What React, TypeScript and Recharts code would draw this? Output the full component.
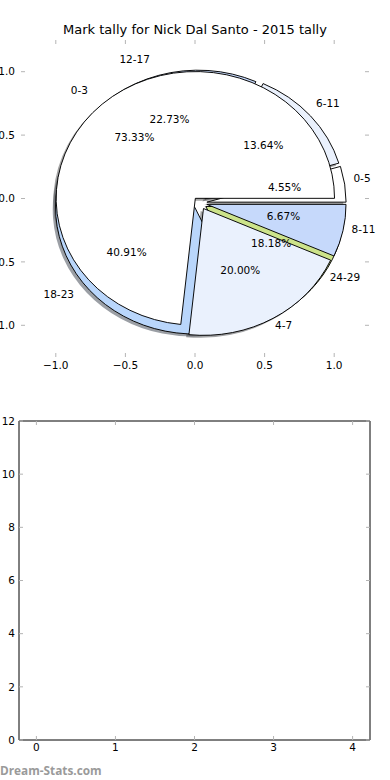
import React from "react"
import { PieChart, Pie, Cell, ScatterChart, Scatter, XAxis, YAxis } from "recharts"

// outer ring: marks per 6-year age band
const sixYearBins = ["0-5", "6-11", "12-17", "18-23", "24-29"]
const sixYearMarks = [1, 3, 5, 9, 4]
const sixYearColors = ["#ffffff", "#eaf1fd", "#c6d9fb", "#b9d6fb", "#cce38a"]

// second pie: marks per 4-year age band
const fourYearBins = ["0-3", "4-7", "8-11"]
const fourYearMarks = [11, 3, 1]
const fourYearColors = ["#ffffff", "#eaf1fd", "#c6d9fb"]

const pieTicks = [-1, -0.5, 0, 0.5, 1]
const emptyXTicks = [0, 1, 2, 3, 4]
const emptyYTicks = [0, 2, 4, 6, 8, 10, 12]

const FONT = "DejaVu Sans, sans-serif"
const TICK_GREY = "#b4b4b4"

// top axes geometry (pie is drawn in data units, x and y are scaled differently)
const CX = 195
const CY = 198.5
const RX = 139.2
const RY = 126.8
const EXPLODE = 0.05

const sixYearData = sixYearBins.map((name, i) => ({ name, value: sixYearMarks[i] }))
const fourYearData = fourYearBins.map((name, i) => ({ name, value: fourYearMarks[i] }))

function midAngles(values: number[]) {
  const total = values.reduce((a, b) => a + b, 0)
  let acc = 0
  return values.map((v) => {
    const m = ((acc + v / 2) / total) * 360
    acc += v
    return m
  })
}

function wedgeTransform(mid: number, shiftX = 0, shiftY = 0) {
  const rad = (mid * Math.PI) / 180
  const dx = EXPLODE * Math.cos(rad) * RX + shiftX
  const dy = -EXPLODE * Math.sin(rad) * RY + shiftY
  return `translate(${CX + dx} ${CY + dy}) scale(1 ${RY / RX}) translate(${-CX} ${-CY})`
}

function shade(hex: string) {
  const n = parseInt(hex.slice(1), 16)
  const r = Math.round(((n >> 16) & 255) * 0.3)
  const g = Math.round(((n >> 8) & 255) * 0.3)
  const b = Math.round((n & 255) * 0.3)
  return `rgb(${r},${g},${b})`
}

const fmt1 = (v: number) => v.toFixed(1).replace("-", "\u2212")
const blank = () => ""

function nameLabel(p: any) {
  const rad = (p.midAngle * Math.PI) / 180
  const ux = (EXPLODE + 1.1) * Math.cos(rad)
  const uy = (EXPLODE + 1.1) * Math.sin(rad)
  return (
    <text
      key={`n-${p.name}`}
      x={CX + ux * RX}
      y={CY - uy * RY}
      textAnchor={ux > 0 ? "start" : "end"}
      dominantBaseline="central"
      fontSize={10.5}
      fontFamily={FONT}
      fill="#000"
    >
      {p.name}
    </text>
  )
}

function pctLabel(p: any) {
  const rad = (p.midAngle * Math.PI) / 180
  const ux = (EXPLODE + 0.6) * Math.cos(rad)
  const uy = (EXPLODE + 0.6) * Math.sin(rad)
  return (
    <text
      key={`p-${p.name}`}
      x={CX + ux * RX}
      y={CY - uy * RY}
      textAnchor="middle"
      dominantBaseline="central"
      fontSize={10.5}
      fontFamily={FONT}
      fill="#000"
    >
      {`${(p.percent * 100).toFixed(2)}%`}
    </text>
  )
}

function PieLayer() {
  const sixMids = midAngles(sixYearMarks)
  const fourMids = midAngles(fourYearMarks)
  const common = { cx: CX, cy: CY, outerRadius: RX, dataKey: "value", nameKey: "name", isAnimationActive: false }
  return (
    <PieChart width={390} height={380} style={{ position: "absolute", left: 0, top: 0 }}>
      {/* shadows */}
      <Pie {...common} data={sixYearData} stroke="none">
        {sixYearData.map((d, i) => (
          <Cell key={d.name} fill={shade(sixYearColors[i])} fillOpacity={0.5} transform={wedgeTransform(sixMids[i], -2.8, 2.5)} />
        ))}
      </Pie>
      <Pie {...common} data={fourYearData} stroke="none">
        {fourYearData.map((d, i) => (
          <Cell key={d.name} fill={shade(fourYearColors[i])} fillOpacity={0.5} transform={wedgeTransform(fourMids[i], -2.8, 2.5)} />
        ))}
      </Pie>
      {/* wedges */}
      <Pie {...common} data={sixYearData} stroke="#000" strokeWidth={1}>
        {sixYearData.map((d, i) => (
          <Cell key={d.name} fill={sixYearColors[i]} transform={wedgeTransform(sixMids[i])} />
        ))}
      </Pie>
      <Pie {...common} data={fourYearData} stroke="#000" strokeWidth={1}>
        {fourYearData.map((d, i) => (
          <Cell key={d.name} fill={fourYearColors[i]} transform={wedgeTransform(fourMids[i])} />
        ))}
      </Pie>
      {/* texts on top */}
      <Pie {...common} data={sixYearData} fill="none" stroke="none" labelLine={false} label={nameLabel} />
      <Pie {...common} data={sixYearData} fill="none" stroke="none" labelLine={false} label={pctLabel} />
      <Pie {...common} data={fourYearData} fill="none" stroke="none" labelLine={false} label={nameLabel} />
      <Pie {...common} data={fourYearData} fill="none" stroke="none" labelLine={false} label={pctLabel} />
    </PieChart>
  )
}

const tickStyle = { fontSize: 10.5, fontFamily: FONT, fill: "#000" }

function PieAxes() {
  return (
    <ScatterChart width={390} height={380} margin={{ top: 39, right: 20, bottom: 0, left: 0 }} style={{ position: "absolute", left: 0, top: 0 }}>
      <XAxis xAxisId="b" dataKey="x" type="number" domain={[-1.25, 1.25]} allowDataOverflow ticks={pieTicks} interval={0} height={23}
        axisLine={false} tickLine={{ stroke: TICK_GREY }} tickSize={-4} tickMargin={9} tick={tickStyle} tickFormatter={fmt1} />
      <XAxis xAxisId="t" dataKey="x" type="number" orientation="top" domain={[-1.25, 1.25]} allowDataOverflow ticks={pieTicks} interval={0} height={1}
        axisLine={false} tickLine={{ stroke: TICK_GREY }} tickSize={-4} tickFormatter={blank} />
      <YAxis yAxisId="l" dataKey="y" type="number" domain={[-1.25, 1.25]} allowDataOverflow ticks={pieTicks} interval={0} width={21}
        axisLine={false} tickLine={{ stroke: TICK_GREY }} tickSize={-4} tickMargin={10} tick={tickStyle} tickFormatter={fmt1} />
      <YAxis yAxisId="r" dataKey="y" type="number" orientation="right" domain={[-1.25, 1.25]} allowDataOverflow ticks={pieTicks} interval={0} width={1}
        axisLine={false} tickLine={{ stroke: TICK_GREY }} tickSize={-4} tickFormatter={blank} />
      <Scatter xAxisId="b" yAxisId="l" data={[]} isAnimationActive={false} />
      <Scatter xAxisId="t" yAxisId="r" data={[]} isAnimationActive={false} />
    </ScatterChart>
  )
}

function EmptyAxes() {
  return (
    <ScatterChart width={390} height={400} margin={{ top: 40, right: 19, bottom: 0, left: 0 }} style={{ position: "absolute", left: 0, top: 380 }}>
      <XAxis xAxisId="b" dataKey="x" type="number" domain={[-0.22, 4.22]} allowDataOverflow ticks={emptyXTicks} interval={0} height={40}
        axisLine={{ stroke: "#000" }} tickLine={{ stroke: TICK_GREY }} tickSize={-4} tickMargin={8} tick={tickStyle} />
      <XAxis xAxisId="t" dataKey="x" type="number" orientation="top" domain={[-0.22, 4.22]} allowDataOverflow ticks={emptyXTicks} interval={0} height={1}
        axisLine={{ stroke: "#000" }} tickLine={{ stroke: TICK_GREY }} tickSize={-4} tickFormatter={blank} />
      <YAxis yAxisId="l" dataKey="y" type="number" domain={[0, 12]} allowDataOverflow ticks={emptyYTicks} interval={0} width={19}
        axisLine={{ stroke: "#000" }} tickLine={{ stroke: TICK_GREY }} tickSize={-4} tickMargin={8} tick={tickStyle} />
      <YAxis yAxisId="r" dataKey="y" type="number" orientation="right" domain={[0, 12]} allowDataOverflow ticks={emptyYTicks} interval={0} width={1}
        axisLine={{ stroke: "#000" }} tickLine={{ stroke: TICK_GREY }} tickSize={-4} tickFormatter={blank} />
      <Scatter xAxisId="b" yAxisId="l" data={[]} isAnimationActive={false} />
      <Scatter xAxisId="t" yAxisId="r" data={[]} isAnimationActive={false} />
    </ScatterChart>
  )
}

export default function App() {
  return (
    <div style={{ position: "absolute", left: 0, top: 0, width: 390, height: 780, background: "#fff", overflow: "hidden" }}>
      <div style={{ position: "absolute", left: 0, top: 22, width: 390, height: 16, lineHeight: "16px", textAlign: "center", fontFamily: FONT, fontSize: 13, color: "#000" }}>
        Mark tally for Nick Dal Santo - 2015 tally
      </div>
      <PieAxes />
      <PieLayer />
      <EmptyAxes />
      <div style={{ position: "absolute", left: 0, top: 762, fontFamily: "Open Sans, sans-serif", fontWeight: 700, fontSize: 11.8, color: "#9a9a9a" }}>
        Dream-Stats.com
      </div>
    </div>
  )
}
